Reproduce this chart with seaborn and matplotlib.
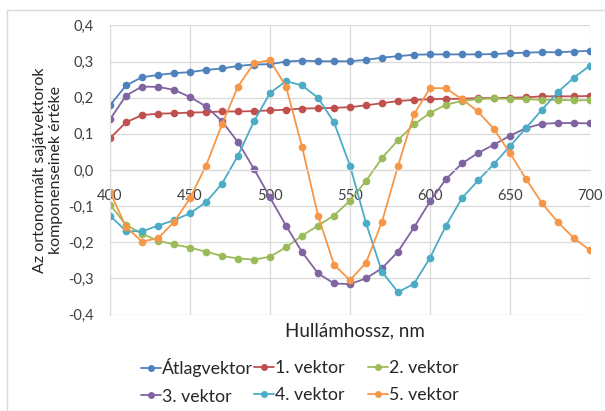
import numpy as np
import pandas as pd
import matplotlib
matplotlib.use("Agg")
import matplotlib.pyplot as plt
import seaborn as sns

wavelengths = list(range(400, 701, 10))

atlag = [0.179, 0.234, 0.257, 0.263, 0.268, 0.271, 0.277, 0.281, 0.288, 0.292, 0.293,
         0.300, 0.303, 0.301, 0.301, 0.301, 0.305, 0.311, 0.315, 0.319, 0.320,
         0.320, 0.320, 0.320, 0.321, 0.323, 0.325, 0.326, 0.326, 0.328, 0.330]
v1 = [0.088, 0.132, 0.152, 0.156, 0.157, 0.159, 0.160, 0.162, 0.162, 0.163, 0.165,
      0.167, 0.170, 0.171, 0.172, 0.174, 0.179, 0.185, 0.191, 0.194, 0.196,
      0.197, 0.197, 0.199, 0.199, 0.200, 0.201, 0.204, 0.204, 0.204, 0.205]
v2 = [-0.096, -0.152, -0.176, -0.196, -0.206, -0.215, -0.226, -0.238, -0.245, -0.248, -0.240,
      -0.214, -0.182, -0.154, -0.126, -0.085, -0.030, 0.033, 0.083, 0.126, 0.158,
      0.181, 0.191, 0.196, 0.198, 0.197, 0.196, 0.194, 0.194, 0.193, 0.193]
v3 = [0.140, 0.206, 0.231, 0.230, 0.222, 0.202, 0.176, 0.135, 0.077, 0.003, -0.076,
      -0.154, -0.227, -0.286, -0.314, -0.316, -0.300, -0.272, -0.226, -0.159, -0.087,
      -0.025, 0.018, 0.047, 0.070, 0.095, 0.116, 0.128, 0.130, 0.130, 0.129]
v4 = [-0.126, -0.169, -0.170, -0.154, -0.139, -0.120, -0.089, -0.038, 0.040, 0.135, 0.213,
      0.246, 0.234, 0.200, 0.132, 0.012, -0.147, -0.282, -0.338, -0.315, -0.243,
      -0.154, -0.078, -0.029, 0.017, 0.066, 0.116, 0.167, 0.216, 0.256, 0.289]
v5 = [-0.060, -0.158, -0.198, -0.189, -0.144, -0.078, 0.012, 0.126, 0.231, 0.296, 0.304,
      0.231, 0.065, -0.126, -0.262, -0.305, -0.257, -0.143, 0.011, 0.154, 0.227,
      0.226, 0.196, 0.162, 0.113, 0.047, -0.025, -0.092, -0.145, -0.189, -0.222]

series_names = ["Átlagvektor", "1. vektor", "2. vektor", "3. vektor", "4. vektor", "5. vektor"]
series_vals = [atlag, v1, v2, v3, v4, v5]
colors = ["#4F81BD", "#C0504D", "#9BBB59", "#8064A2", "#4BACC6", "#F79646"]
yticks = [-0.4, -0.3, -0.2, -0.1, 0.0, 0.1, 0.2, 0.3, 0.4]
xticks = [400, 450, 500, 550, 600, 650, 700]

df = pd.concat([pd.DataFrame({"wl": wavelengths, "val": vals, "series": name})
                for name, vals in zip(series_names, series_vals)], ignore_index=True)

sns.set_style("white")
plt.rcParams['font.family'] = ['Lato', 'DejaVu Sans']

fig = plt.figure(figsize=(6.05, 4.11), dpi=100)
ax = fig.add_axes([110/605, 1-314.5/411, 480/605, 289/411])

sns.lineplot(data=df, x="wl", y="val", hue="series", hue_order=series_names,
             palette=colors, marker="o", markersize=5.5, markeredgewidth=0,
             linewidth=1.3, ax=ax, legend=True, sort=False)

ax.set_xlim(400, 700)
ax.set_ylim(-0.4, 0.4)
ax.set_xticks(xticks)
ax.set_yticks(yticks)
ax.set_yticklabels([f"{v:.1f}".replace(".", ",").replace("-0,0", "0,0") for v in yticks])
ax.grid(True, color="#D9D9D9", linewidth=0.9)
ax.set_axisbelow(True)
for s in ["top", "right"]:
    ax.spines[s].set_visible(False)
ax.spines["left"].set_color("#D9D9D9")
ax.spines["bottom"].set_position(("data", 0))
ax.spines["bottom"].set_color("#D9D9D9")
ax.tick_params(axis="y", length=0, pad=11.5, labelsize=10.5, labelcolor="#404040")
ax.tick_params(axis="x", length=0, pad=13.5, labelsize=10.5, labelcolor="#404040")
ax.set_xlabel("")
ax.set_ylabel("Az ortonormált sajátvektorok\nkomponenseinek értéke", fontsize=11.5,
              color="#262626", labelpad=4)
fig.text(355/605, 1-331/411, "Hullámhossz, nm", ha="center", va="center",
         fontsize=13.5, color="#262626")

handles, labels = ax.get_legend_handles_labels()
ax.legend_.remove()
for h in handles:
    h.set_markersize(5)
col_x = [141, 254, 368]
for c in range(3):
    idx = [c, c + 3]
    leg = fig.legend([handles[i] for i in idx], [labels[i] for i in idx],
                     loc="center left", bbox_to_anchor=(col_x[c]/605, 1-381.5/411),
                     ncol=1, frameon=False, fontsize=12.8, handlelength=1.1,
                     handletextpad=0.1, labelspacing=0.62, borderpad=0,
                     borderaxespad=0)

fig.patches.append(plt.Rectangle((7/605, 0.0), 1.2, 1-10/411, transform=fig.transFigure,
                                 fill=False, edgecolor="#D9D9D9", linewidth=1))

fig.savefig("out.png", dpi=100)
